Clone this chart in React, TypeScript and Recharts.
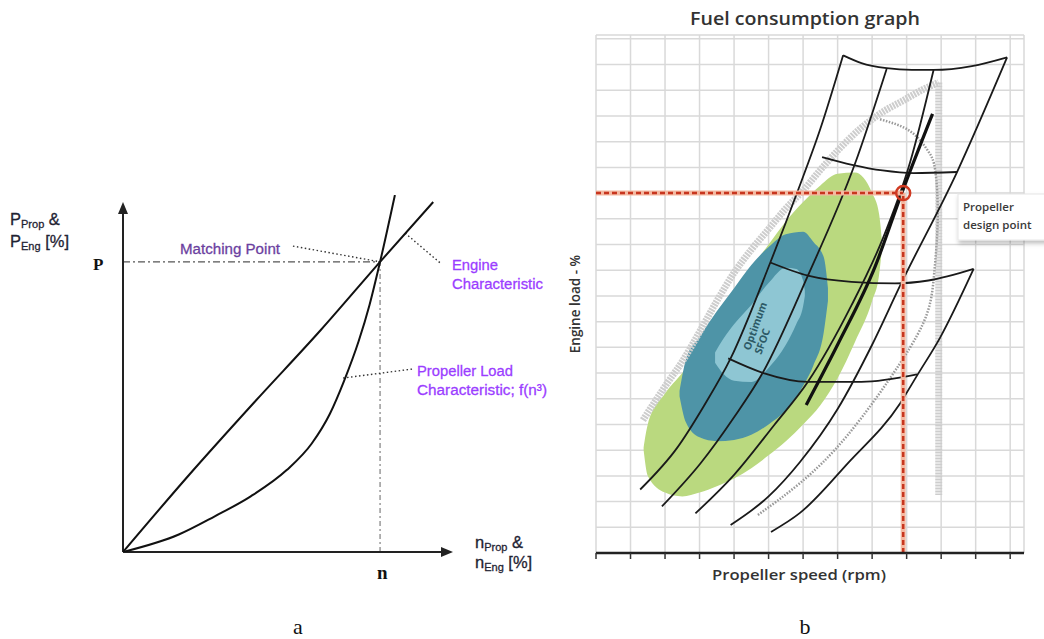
import {
  ComposedChart,
  Line,
  Area,
  XAxis,
  YAxis,
  CartesianGrid,
  ReferenceLine,
  ReferenceDot,
} from 'recharts';

type Pt = [number, number];

// (a) propeller / engine matching, both axes in % of the drawn range
const engineSpeed = [0, 20, 40, 60, 77.9, 94];
const enginePower = [0, 22, 43, 63.5, 82.9, 100];
const propSpeed = [0, 16.9, 27.8, 38.7, 49.6, 57.2, 62.7, 67, 71.4, 74.7, 77.9, 82.4];
const propPower = [0, 5, 10.2, 15.9, 23.4, 31, 39.5, 48.9, 60.2, 70.6, 82.9, 102];
const matchPoint: Pt = [77.9, 82.9];
const matchLeader: Pt[] = [[51.5, 87.4], [77.9, 82.9]];
const engineLeader: Pt[] = [[85.5, 91.1], [96.1, 82.6]];
const propLeader: Pt[] = [[66.7, 49.7], [87.9, 52.3]];

// (b) fuel consumption map, units = grid cells
const speedTicks = [0, 1, 2, 3, 4, 5, 6, 7, 8, 9, 10, 11, 12];
const loadTicks = [0, 1, 2, 3, 4, 5, 6, 7, 8, 9, 10, 11, 12, 13, 14, 15, 16, 17, 18, 19, 20];

const greenSpeed = [1.38, 1.5, 2, 2.5, 3, 3.5, 4, 4.5, 5, 5.5, 6, 6.5, 7, 7.5, 8, 8.2, 8.28];
const greenLow = [4.0, 3.0, 2.35, 2.2, 2.35, 2.6, 2.9, 3.3, 3.8, 4.35, 5.0, 5.75, 6.8, 8.2, 9.8, 10.8, 11.8];
const greenHigh = [4.1, 5.0, 6.2, 7.0, 7.9, 9.15, 10.2, 11.1, 12.0, 12.9, 13.65, 14.3, 14.75, 14.8, 14.0, 13.2, 12.2];

const tealSpeed = [2.42, 2.6, 3, 3.5, 4, 4.5, 5, 5.5, 6, 6.3, 6.6, 6.72];
const tealLow = [6.1, 5.1, 4.5, 4.35, 4.4, 4.6, 5.0, 5.55, 6.5, 7.3, 8.6, 9.8];
const tealHigh = [6.3, 7.5, 8.4, 9.4, 10.3, 11.2, 11.9, 12.4, 12.5, 12.1, 11.5, 10.3];

const sfocSpeed = [3.45, 3.7, 4, 4.5, 5, 5.5, 5.8, 6, 6.05];
const sfocLow = [7.4, 6.95, 6.7, 6.65, 7.2, 8.1, 8.9, 9.6, 10.0];
const sfocHigh = [7.8, 8.35, 8.9, 9.65, 10.5, 11.1, 11.05, 10.6, 10.2];

const loadLine1: Pt[] = [[1.28, 2.47], [2.35, 4.09], [3.13, 5.73], [3.9, 7.57], [5.05, 11.3], [5.85, 14.1], [6.5, 16.5], [7.16, 19.36]];
const loadLine2: Pt[] = [[1.91, 1.81], [3.03, 3.49], [4.0, 5.28], [4.83, 7.01], [6.14, 10.79], [7.5, 15.13], [8.42, 18.83]];
const loadLine3: Pt[] = [[2.88, 1.54], [4.0, 3.04], [5.17, 4.99], [6.14, 6.66], [7.4, 9.63], [8.3, 12.2], [9.1, 15.2], [9.78, 18.79]];
const loadLine4: Pt[] = [[3.9, 1.09], [5.0, 2.2], [5.91, 3.54], [7.0, 5.6], [8.0, 8.1], [8.81, 10.4], [10.46, 14.82], [11.91, 19.28]];
const loadLine5: Pt[] = [[5.07, 0.82], [5.91, 1.56], [7.3, 3.5], [8.81, 5.82], [9.3, 6.9], [9.97, 8.38], [10.94, 11.05]];
const designCurve: Pt[] = [[6.09, 5.76], [7.01, 8.13], [8.08, 11.12], [8.85, 13.97], [9.75, 17.08]];

const topArc: Pt[] = [[7.16, 19.36], [7.69, 19.06], [8.42, 18.86], [9.15, 18.79], [9.78, 18.79], [10.89, 18.94], [11.91, 19.28]];
const arc2: Pt[] = [[6.55, 15.4], [7.42, 15.1], [8.3, 14.88], [9.2, 14.78], [10.46, 14.82]];
const arc3: Pt[] = [[5.05, 11.3], [6.14, 10.79], [7.4, 10.55], [8.66, 10.49], [9.63, 10.6], [10.94, 11.05]];
const arc4: Pt[] = [[3.83, 7.57], [4.83, 7.01], [6.14, 6.66], [7.69, 6.66], [9.3, 6.95]];

const limitBand: Pt[] = [[1.36, 5.17], [2.06, 6.6], [2.5, 7.45], [3.0, 8.6], [3.5, 9.8], [4.0, 10.9], [4.5, 11.8], [5.0, 12.6], [5.5, 13.4], [6.0, 14.1], [6.5, 14.9], [7.0, 15.65], [7.65, 16.5], [8.3, 17.15], [8.9, 17.6], [9.5, 18.05], [9.93, 18.3]];
const limitBandVertical: Pt[] = [[9.93, 18.3], [9.93, 2.26]];
const dottedLimit: Pt[] = [[8.23, 16.87], [9.1, 16.41], [9.62, 15.64], [9.83, 14.87], [9.9, 13.0], [9.8, 10.9], [9.59, 9.31], [8.81, 7.38], [7.3, 4.6], [5.91, 2.72], [4.68, 1.47]];

const designPoint: Pt = [8.9, 14];

const toRows = (xs: number[], ys: number[]) => xs.map((x, i) => ({ x, y: ys[i] }));
const fromPts = (p: Pt[]) => p.map(([x, y]) => ({ x, y }));
const toBand = (xs: number[], lo: number[], hi: number[]) =>
  xs.map((x, i) => ({ x, r: [lo[i], hi[i]] }));

const ArrowRight = (p: any) => (
  <path d={`M${p.cx},${p.cy} l-12,-5 l0,10 z`} fill="#222" />
);
const ArrowUp = (p: any) => (
  <path d={`M${p.cx},${p.cy} l-5,12 l10,0 z`} fill="#222" />
);

function MatchingChart() {
  const seg = (p: Pt[]) => p.map(([x, y]) => ({ x, y }));
  return (
    <ComposedChart width={560} height={600} margin={{ top: 195, right: 107, bottom: 48, left: 123 }}>
      <XAxis type="number" dataKey="x" domain={[0, 100]} hide allowDataOverflow />
      <YAxis type="number" domain={[0, 102]} hide allowDataOverflow />
      <ReferenceLine
        segment={[{ x: 0, y: matchPoint[1] }, { x: matchPoint[0], y: matchPoint[1] }]}
        stroke="#555"
        strokeWidth={1.3}
        strokeDasharray="7 3 2 3"
      />
      <ReferenceLine
        segment={[{ x: matchPoint[0], y: 0 }, { x: matchPoint[0], y: matchPoint[1] }]}
        stroke="#999"
        strokeWidth={1.5}
        strokeDasharray="5 3 2 3"
      />
      <ReferenceLine segment={seg(matchLeader)} stroke="#333" strokeWidth={1.4} strokeDasharray="1.5 2.5" />
      <ReferenceLine segment={seg(engineLeader)} stroke="#333" strokeWidth={1.4} strokeDasharray="1.5 2.5" />
      <ReferenceLine segment={seg(propLeader)} stroke="#333" strokeWidth={1.4} strokeDasharray="1.5 2.5" />
      <ReferenceLine segment={[{ x: 0, y: 0 }, { x: 97, y: 0 }]} stroke="#222" strokeWidth={2} />
      <ReferenceLine segment={[{ x: 0, y: 0 }, { x: 0, y: 97 }]} stroke="#222" strokeWidth={2} />
      <Line
        data={toRows(engineSpeed, enginePower)}
        dataKey="y"
        type="monotone"
        stroke="#111"
        strokeWidth={2}
        dot={false}
        isAnimationActive={false}
      />
      <Line
        data={toRows(propSpeed, propPower)}
        dataKey="y"
        type="monotone"
        stroke="#111"
        strokeWidth={2}
        dot={false}
        isAnimationActive={false}
      />
      <ReferenceDot x={100} y={0} r={0} shape={ArrowRight} />
      <ReferenceDot x={0} y={100} r={0} shape={ArrowUp} />
    </ComposedChart>
  );
}

function FuelMapChart() {
  const black = { stroke: '#1a1a1a', strokeWidth: 1.8, dot: false, isAnimationActive: false } as const;
  return (
    <ComposedChart width={484} height={600} margin={{ top: 35, right: 20, bottom: 39, left: 36 }}>
      <CartesianGrid stroke="#d9d9d9" strokeWidth={1.5} />
      <XAxis
        type="number"
        dataKey="x"
        domain={[0, 12.4]}
        ticks={speedTicks}
        allowDataOverflow
        height={8}
        tickSize={6}
        tickFormatter={() => ''}
        axisLine={{ stroke: '#222', strokeWidth: 2.5 }}
        tickLine={{ stroke: '#333', strokeWidth: 1.5 }}
      />
      <YAxis
        type="number"
        domain={[0, 20.15]}
        ticks={loadTicks}
        allowDataOverflow
        mirror
        width={0}
        tickSize={7}
        tickFormatter={() => ''}
        axisLine={{ stroke: '#555', strokeWidth: 1.5 }}
        tickLine={{ stroke: '#444', strokeWidth: 1.5 }}
      />
      <Area data={toBand(greenSpeed, greenLow, greenHigh)} dataKey="r" type="monotone" fill="#bad97f" fillOpacity={1} stroke="none" isAnimationActive={false} />
      <Area data={toBand(tealSpeed, tealLow, tealHigh)} dataKey="r" type="monotone" fill="#4e94a7" fillOpacity={1} stroke="none" isAnimationActive={false} />
      <Area data={toBand(sfocSpeed, sfocLow, sfocHigh)} dataKey="r" type="monotone" fill="#8ec6d3" fillOpacity={1} stroke="none" isAnimationActive={false} />
      <Line data={fromPts(limitBand)} dataKey="y" type="monotone" stroke="#cdcdcd" strokeWidth={7} strokeDasharray="2 1" dot={false} isAnimationActive={false} />
      <Line data={fromPts(limitBandVertical)} dataKey="y" type="linear" stroke="#cdcdcd" strokeWidth={7} strokeDasharray="2 1" dot={false} isAnimationActive={false} />
      <Line data={fromPts(dottedLimit)} dataKey="y" type="natural" stroke="#999" strokeWidth={2.5} strokeDasharray="1.5 1.5" dot={false} isAnimationActive={false} />
      <Line data={fromPts(topArc)} dataKey="y" type="monotone" {...black} />
      <Line data={fromPts(arc2)} dataKey="y" type="monotone" {...black} />
      <Line data={fromPts(arc3)} dataKey="y" type="monotone" {...black} />
      <Line data={fromPts(arc4)} dataKey="y" type="monotone" {...black} />
      <Line data={fromPts(loadLine1)} dataKey="y" type="monotone" {...black} />
      <Line data={fromPts(loadLine2)} dataKey="y" type="monotone" {...black} />
      <Line data={fromPts(loadLine3)} dataKey="y" type="monotone" {...black} />
      <Line data={fromPts(loadLine4)} dataKey="y" type="monotone" {...black} />
      <Line data={fromPts(loadLine5)} dataKey="y" type="monotone" {...black} />
      <Line data={fromPts(designCurve)} dataKey="y" type="monotone" stroke="#111" strokeWidth={3.2} dot={false} isAnimationActive={false} />
      <Line data={[{ x: 0, y: designPoint[1] }, { x: designPoint[0], y: designPoint[1] }]} dataKey="y" type="linear" stroke="#f3b9a2" strokeWidth={5} dot={false} isAnimationActive={false} />
      <Line data={[{ x: designPoint[0], y: 0 }, { x: designPoint[0], y: designPoint[1] }]} dataKey="y" type="linear" stroke="#f3b9a2" strokeWidth={5} dot={false} isAnimationActive={false} />
      <Line data={[{ x: 0, y: designPoint[1] }, { x: designPoint[0], y: designPoint[1] }]} dataKey="y" type="linear" stroke="#c8361f" strokeWidth={2.5} strokeDasharray="5 3" dot={false} isAnimationActive={false} />
      <Line data={[{ x: designPoint[0], y: 0 }, { x: designPoint[0], y: designPoint[1] }]} dataKey="y" type="linear" stroke="#c8361f" strokeWidth={2.5} strokeDasharray="5 3" dot={false} isAnimationActive={false} />
      <ReferenceDot x={designPoint[0]} y={designPoint[1]} r={7} fill="none" stroke="#d03a22" strokeWidth={2.5} />
    </ComposedChart>
  );
}

function Annotations() {
  const sans = "'Liberation Sans', Arial, sans-serif";
  const serif = "'Liberation Serif', 'Times New Roman', serif";
  const open = "'Open Sans', 'Noto Sans', sans-serif";
  const purple = '#9b3dff';
  return (
    <svg width={1044} height={639} style={{ position: 'absolute', left: 0, top: 0, pointerEvents: 'none' }}>
      <defs>
        <filter id="boxShadow" x="-10%" y="-10%" width="130%" height="160%">
          <feDropShadow dx="1" dy="3" stdDeviation="2" floodColor="#000" floodOpacity="0.25" />
        </filter>
      </defs>
      {/* chart a */}
      <g fontFamily={sans} fill="#1f2333" stroke="#1f2333" strokeWidth={0.3}>
        <text x={10} y={225} fontSize={16.5}>
          P<tspan fontSize={11} dy={3}>Prop</tspan>
          <tspan fontSize={16.5} dy={-3}> &amp;</tspan>
        </text>
        <text x={10} y={247} fontSize={16.5}>
          P<tspan fontSize={11} dy={3}>Eng</tspan>
          <tspan fontSize={16.5} dy={-3}> [%]</tspan>
        </text>
        <text x={475} y={548} fontSize={16.5}>
          n<tspan fontSize={11} dy={3}>Prop</tspan>
          <tspan fontSize={16.5} dy={-3}> &amp;</tspan>
        </text>
        <text x={475} y={568} fontSize={16.5}>
          n<tspan fontSize={11} dy={3}>Eng</tspan>
          <tspan fontSize={16.5} dy={-3}> [%]</tspan>
        </text>
      </g>
      <text x={93} y={270} fontFamily={serif} fontWeight="bold" fontSize={17} fill="#111">P</text>
      <text x={377} y={579} fontFamily={serif} fontWeight="bold" fontSize={19} fill="#111">n</text>
      <g fontFamily={sans} fontSize={15.5} strokeWidth={0.3}>
        <text x={180} y={254} fill="#6b3fa0" stroke="#6b3fa0" textLength={100} lengthAdjust="spacingAndGlyphs">Matching Point</text>
        <text x={452} y={270} fill={purple} stroke={purple} textLength={46} lengthAdjust="spacingAndGlyphs">Engine</text>
        <text x={452} y={289} fill={purple} stroke={purple} textLength={91} lengthAdjust="spacingAndGlyphs">Characteristic</text>
        <text x={417} y={376} fill={purple} stroke={purple} textLength={96} lengthAdjust="spacingAndGlyphs">Propeller Load</text>
        <text x={417} y={395} fill={purple} stroke={purple} textLength={130} lengthAdjust="spacingAndGlyphs">Characteristic; f(n³)</text>
      </g>

      {/* chart b */}
      <text x={690} y={25} fontFamily={open} fontWeight={600} fontSize={17.5} fill="#333" textLength={230} lengthAdjust="spacingAndGlyphs">Fuel consumption graph</text>
      <text x={712} y={580} fontFamily={open} fontWeight={600} fontSize={14.5} fill="#333" textLength={174} lengthAdjust="spacingAndGlyphs">Propeller speed (rpm)</text>
      <text x={0} y={0} transform="translate(580,304) rotate(-90)" textAnchor="middle" fontFamily={open} fontWeight={600} fontSize={13.5} fill="#333">Engine load - %</text>
      <g transform="translate(750,351) rotate(-70)" fontFamily={open} fontWeight={700} fontSize={10.5} fill="#2d5a66">
        <text x={0} y={0}>Optimum</text>
        <text x={0} y={12}>SFOC</text>
      </g>
      <rect x={958} y={194} width={92} height={46} fill="#fff" stroke="#e6e6e6" filter="url(#boxShadow)" />
      <text x={963} y={211} fontFamily={open} fontWeight={600} fontSize={11.5} fill="#3a3a3a">Propeller</text>
      <text x={963} y={229} fontFamily={open} fontWeight={600} fontSize={11.5} fill="#3a3a3a">design point</text>

      <text x={298} y={634} textAnchor="middle" fontFamily={serif} fontSize={22} fill="#111">a</text>
      <text x={805} y={634} textAnchor="middle" fontFamily={serif} fontSize={22} fill="#111">b</text>
    </svg>
  );
}

export default function App() {
  return (
    <div style={{ position: 'absolute', left: 0, top: 0, width: 1044, height: 639, background: '#fff', overflow: 'hidden' }}>
      <div style={{ position: 'absolute', left: 0, top: 0 }}>
        <MatchingChart />
      </div>
      <div style={{ position: 'absolute', left: 560, top: 0 }}>
        <FuelMapChart />
      </div>
      <Annotations />
    </div>
  );
}
